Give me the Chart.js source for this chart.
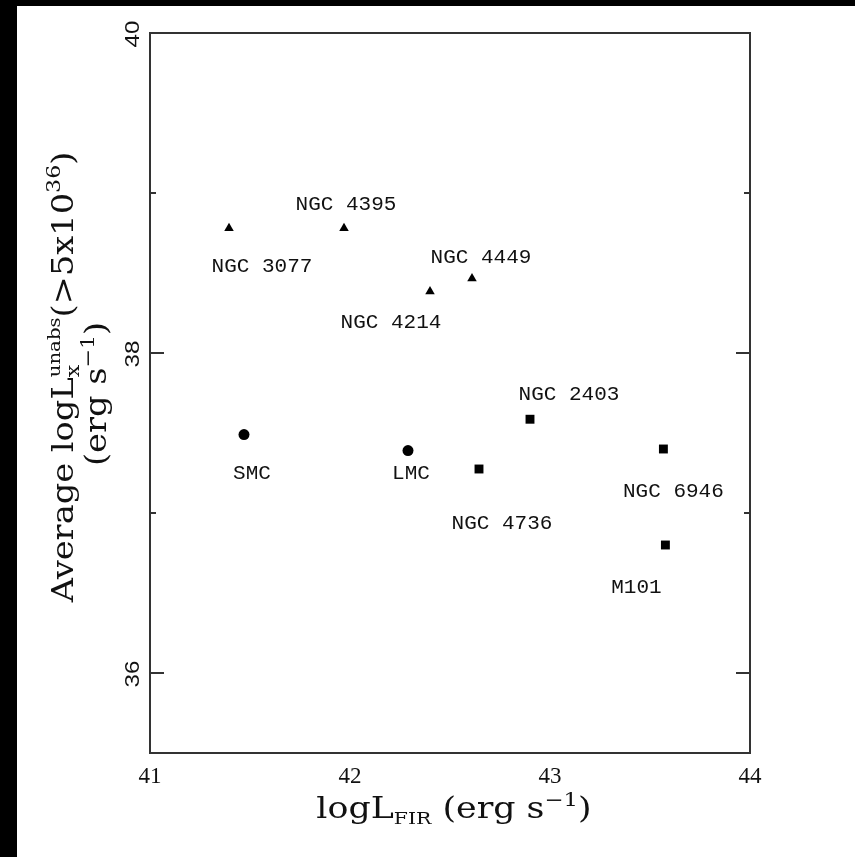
<!DOCTYPE html>
<html>
<head>
<meta charset="utf-8">
<script src="https://cdn.jsdelivr.net/npm/chart.js@4"></script>
<style>
  html, body { margin: 0; padding: 0; background: #000; width: 855px; height: 857px; overflow: hidden; }
  #wrap { position: absolute; left: 17px; top: 6px; width: 838px; height: 851px; background: #fff; }
  canvas { display: block; }
</style>
</head>
<body>
<div id="wrap"><canvas id="c" width="838" height="851"></canvas></div>
<script>
// ---- data ----
const xTicks = [41, 42, 43, 44];
const yTicks = [36, 38, 40];
const yMinorTicks = [37, 39];

const triNames = ['NGC 3077', 'NGC 4395', 'NGC 4214', 'NGC 4449'];
const triX = [41.395, 41.97, 42.40, 42.61];
const triY = [38.78, 38.78, 38.385, 38.465];

const circNames = ['SMC', 'LMC'];
const circX = [41.47, 42.29];
const circY = [37.49, 37.39];

const sqNames = ['NGC 2403', 'NGC 4736', 'NGC 6946', 'M101'];
const sqX = [42.90, 42.645, 43.567, 43.577];
const sqY = [37.586, 37.275, 37.40, 36.80];

// label offsets (pixels) from each marker
const triOff = [[33, 38], [2, -24], [-39, 31], [9, -21]];
const circOff = [[8, 39], [3, 23]];
const sqOff = [[39, -25], [23, 54], [10, 42], [-29, 42]];

function pts(xs, ys) { return xs.map((x, i) => ({ x: x, y: ys[i] })); }

const FRAME = '#333';
const SERIF = '"DejaVu Serif", "Liberation Serif", serif';

function drawRich(ctx, parts) {
  let x = 0, pendingW = 0;
  for (const p of parts) {
    ctx.font = p.s + 'px ' + SERIF;
    const w = ctx.measureText(p.t).width;
    ctx.fillText(p.t, x, p.dy || 0);
    if (p.stack) pendingW = Math.max(pendingW, w);
    else { x += Math.max(pendingW, w); pendingW = 0; }
  }
}
function richWidth(ctx, parts) {
  let x = 0, pendingW = 0;
  for (const p of parts) {
    ctx.font = p.s + 'px ' + SERIF;
    const w = ctx.measureText(p.t).width;
    if (p.stack) pendingW = Math.max(pendingW, w);
    else { x += Math.max(pendingW, w); pendingW = 0; }
  }
  return x;
}

const decor = {
  id: 'decor',
  afterDatasetsDraw(chart) {
    const ctx = chart.ctx;
    const a = chart.chartArea;
    const xs = chart.scales.x, ys = chart.scales.y;
    ctx.save();
    // frame
    ctx.strokeStyle = FRAME;
    ctx.lineWidth = 2;
    ctx.strokeRect(a.left, a.top, a.right - a.left, a.bottom - a.top);
    // y ticks (inward, left and right)
    ctx.beginPath();
    const addY = (v, len) => {
      const py = Math.round(ys.getPixelForValue(v));
      if (py <= a.top + 1 || py >= a.bottom - 1) return;
      ctx.moveTo(a.left, py); ctx.lineTo(a.left + len, py);
      ctx.moveTo(a.right, py); ctx.lineTo(a.right - len, py);
    };
    yTicks.forEach(v => addY(v, 14));
    yMinorTicks.forEach(v => addY(v, 6));
    ctx.stroke();

    ctx.fillStyle = '#111';
    // x tick labels
    ctx.font = '23px "Liberation Serif", serif';
    ctx.textAlign = 'center';
    ctx.textBaseline = 'alphabetic';
    xTicks.forEach(v => {
      ctx.fillText(String(v), xs.getPixelForValue(v), 777);
    });
    // y tick labels (rotated)
    ctx.font = '21px "Liberation Sans", sans-serif';
    yTicks.forEach(v => {
      ctx.save();
      ctx.translate(122, ys.getPixelForValue(v) + 1);
      ctx.rotate(-Math.PI / 2);
      ctx.scale(1.15, 1);
      ctx.fillText(String(v), 0, 0);
      ctx.restore();
    });

    // point labels
    ctx.font = '21px "Liberation Mono", monospace';
    ctx.textAlign = 'center';
    ctx.textBaseline = 'middle';
    const groups = [[triNames, triX, triY, triOff], [circNames, circX, circY, circOff], [sqNames, sqX, sqY, sqOff]];
    groups.forEach(g => {
      g[0].forEach((name, i) => {
        const px = xs.getPixelForValue(g[1][i]);
        const py = ys.getPixelForValue(g[2][i]);
        ctx.fillText(name, px + g[3][i][0], py + g[3][i][1]);
      });
    });

    // axis titles
    ctx.textAlign = 'left';
    ctx.textBaseline = 'alphabetic';
    const xTitle = [
      { t: 'logL', s: 29 }, { t: 'FIR', s: 17, dy: 6 }, { t: ' (erg s', s: 29 },
      { t: '\u22121', s: 19, dy: -12 }, { t: ')', s: 29 }
    ];
    const SX = 1.2;
    let w = richWidth(ctx, xTitle) * SX;
    ctx.save();
    ctx.translate(437 - w / 2, 812);
    ctx.scale(SX, 1);
    drawRich(ctx, xTitle);
    ctx.restore();

    const SY = 1.16;
    const y1 = [
      { t: 'Average logL', s: 29 }, { t: 'x', s: 19, dy: 6, stack: true }, { t: 'unabs', s: 17, dy: -13 },
      { t: '(>5x10', s: 29 }, { t: '36', s: 19, dy: -13 }, { t: ')', s: 29 }
    ];
    w = richWidth(ctx, y1) * SY;
    ctx.save();
    ctx.translate(56, 371 + w / 2);
    ctx.rotate(-Math.PI / 2);
    ctx.scale(SY, 1);
    drawRich(ctx, y1);
    ctx.restore();

    const y2 = [
      { t: '(erg s', s: 29 }, { t: '\u22121', s: 19, dy: -12 }, { t: ')', s: 29 }
    ];
    w = richWidth(ctx, y2) * SY;
    ctx.save();
    ctx.translate(89, 388 + w / 2);
    ctx.rotate(-Math.PI / 2);
    ctx.scale(SY, 1);
    drawRich(ctx, y2);
    ctx.restore();

    ctx.restore();
  }
};

new Chart(document.getElementById('c'), {
  type: 'scatter',
  data: {
    datasets: [
      { label: 'triangles', data: pts(triX, triY), pointStyle: 'triangle', pointRadius: 5.5,
        backgroundColor: '#000', borderColor: '#000', borderWidth: 0 },
      { label: 'circles', data: pts(circX, circY), pointStyle: 'circle', pointRadius: 5.5,
        backgroundColor: '#000', borderColor: '#000', borderWidth: 0 },
      { label: 'squares', data: pts(sqX, sqY), pointStyle: 'rect', pointRadius: 6.3,
        backgroundColor: '#000', borderColor: '#000', borderWidth: 0 }
    ]
  },
  options: {
    responsive: false,
    animation: false,
    devicePixelRatio: 1,
    layout: { padding: { left: 133, top: 27, right: 105, bottom: 104 } },
    plugins: { legend: { display: false }, tooltip: { enabled: false } },
    scales: {
      x: { type: 'linear', min: 41, max: 44, display: false },
      y: { type: 'linear', min: 35.5, max: 40, display: false }
    }
  },
  plugins: [decor]
});
</script>
</body>
</html>
